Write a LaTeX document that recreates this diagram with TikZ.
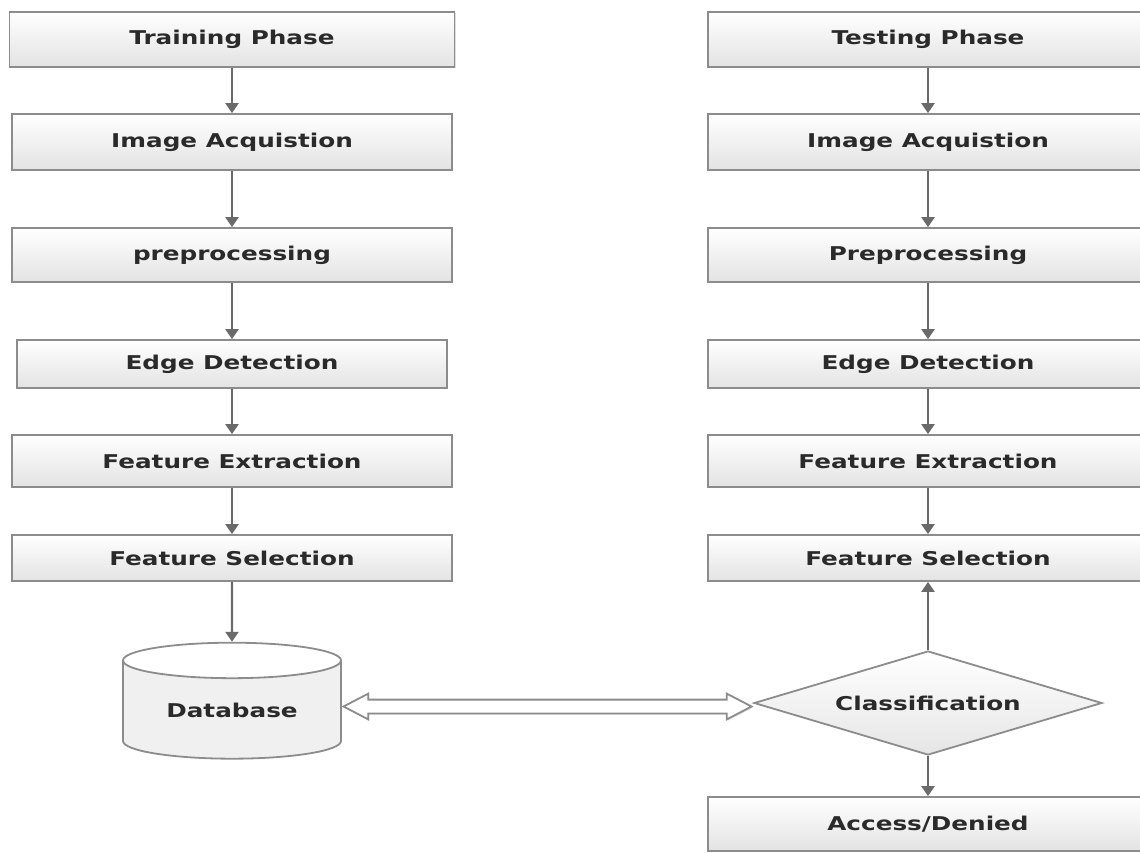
\documentclass[tikz,border=0pt]{standalone}
\usepackage{fontspec}
\setmainfont{DejaVu Sans}[FakeStretch=1.3]
\usetikzlibrary{arrows.meta,shapes.geometric,shapes.arrows,shadows}
\definecolor{edgegray}{HTML}{8C8C8C}
\definecolor{flowgray}{HTML}{6A6A6A}
\definecolor{textgray}{HTML}{2A2A2A}
\tikzset{
  stage/.style={rectangle, draw=edgegray, line width=0.9pt, top color=white,
    bottom color=black!11, minimum width=220pt, minimum height=27pt,
    inner sep=0pt, text=textgray, font=\bfseries\fontsize{9.5}{11}\selectfont,
    drop shadow={shadow xshift=0.6pt, shadow yshift=-0.6pt, opacity=0.25}},
  store/.style={cylinder, shape border rotate=90, aspect=0.27, draw=edgegray,
    line width=0.9pt, cylinder uses custom fill, cylinder body fill=black!6,
    cylinder end fill=white, minimum width=109pt, minimum height=58pt,
    inner sep=0pt, text=textgray, font=\bfseries\fontsize{9.5}{11}\selectfont},
  decide/.style={diamond, aspect=3.35, draw=edgegray, line width=0.9pt,
    top color=white, bottom color=black!10, minimum width=174pt,
    minimum height=52pt, inner sep=0pt, text=textgray,
    font=\bfseries\fontsize{9.5}{11}\selectfont},
  bothway/.style={double arrow, draw=edgegray, line width=0.9pt, fill=white,
    inner xsep=0pt, inner ysep=3pt, minimum width=12pt,
    double arrow head extend=3pt, double arrow tip angle=55,
    minimum height=204pt,
    drop shadow={shadow xshift=0.6pt, shadow yshift=-0.6pt, opacity=0.25}},
  flow/.style={draw=flowgray, line width=1.2pt,
    -{Triangle[width=6.5pt, length=5pt]}}
}
\begin{document}
\begin{tikzpicture}[x=0.5pt, y=-0.5pt]
  \useasboundingbox (0,0) rectangle (1140,852);
  \clip (0,0) rectangle (1140,852);

  % training side
  \node[stage, minimum width=222.5pt, minimum height=27.5pt] (trPhase) at (232,39.5) {Training Phase};
  \node[stage, minimum height=28pt] (trAcq) at (232,142) {Image Acquistion};
  \node[stage] (trPre) at (232,255) {preprocessing};
  \node[stage, minimum width=215pt, minimum height=24pt] (trEdge) at (232,364) {Edge Detection};
  \node[stage, minimum height=26pt] (trExt) at (232,461) {Feature Extraction};
  \node[stage, minimum height=23pt] (trSel) at (232,558) {Feature Selection};
  \node[store] (db) at (232,710) {Database};

  % testing side
  \node[stage, minimum height=27.5pt] (tsPhase) at (928,39.5) {Testing Phase};
  \node[stage, minimum height=28pt] (tsAcq) at (928,142) {Image Acquistion};
  \node[stage] (tsPre) at (928,255) {Preprocessing};
  \node[stage, minimum height=24pt] (tsEdge) at (928,364) {Edge Detection};
  \node[stage, minimum height=26pt] (tsExt) at (928,461) {Feature Extraction};
  \node[stage, minimum height=23pt] (tsSel) at (928,558) {Feature Selection};
  \node[decide] (cls) at (928,703) {Classification};
  \node[stage] (access) at (928,824) {Access/Denied};

  \draw[flow] (trPhase) -- (trAcq);
  \draw[flow] (trAcq) -- (trPre);
  \draw[flow] (trPre) -- (trEdge);
  \draw[flow] (trEdge) -- (trExt);
  \draw[flow] (trExt) -- (trSel);
  \draw[flow] (trSel) -- (db.north);

  \draw[flow] (tsPhase) -- (tsAcq);
  \draw[flow] (tsAcq) -- (tsPre);
  \draw[flow] (tsPre) -- (tsEdge);
  \draw[flow] (tsEdge) -- (tsExt);
  \draw[flow] (tsExt) -- (tsSel);
  \draw[flow] (cls) -- (tsSel);
  \draw[flow] (cls) -- (access);

  % link between database and classifier
  \path (db.east) -- node[bothway] (link) {} (cls.west);
\end{tikzpicture}
\end{document}
